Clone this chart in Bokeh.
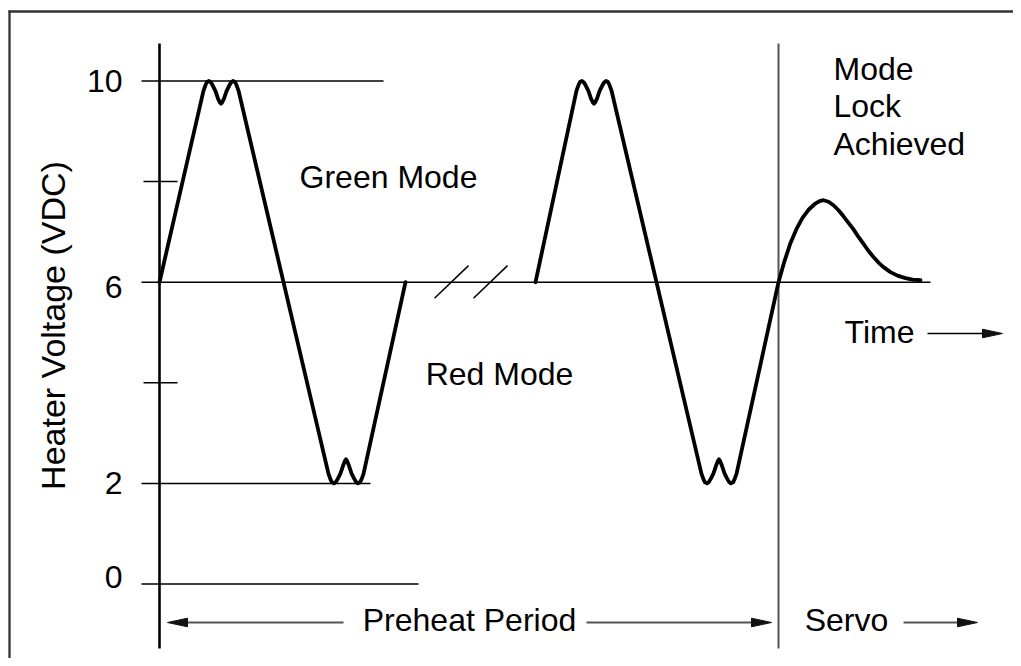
from bokeh.plotting import figure
from bokeh.models import Range1d
from bokeh.core.properties import value
from bokeh.embed import file_html
from bokeh.resources import INLINE

# ---------------- data ----------------
# y axis (heater voltage, VDC)
tick_vals = [10, 6, 2, 0]
tick_labels = ["10", "6", "2", "0"]
minor_tick_vals = [8, 4]
ref_line_end_t = [383, 930, 370, 418]      # time where each level line ends

# waveform 1 (preheat, first cycle) : time, volts
wave1_t = [159, 203, 205, 206.5, 208.5, 210.5, 212.5, 215, 217.5, 219.5, 220.5,
           221.5, 223.5, 226, 228.5, 230.5, 232.5, 234.5, 236, 238,
           328, 330, 331.5, 333.5, 335.5, 337.5, 340, 342.5, 344.5, 345.5,
           346.5, 348.5, 351, 353.5, 355.5, 357.5, 359.5, 361, 363, 405]
wave1_v = [6.0, 9.81, 9.92, 9.98, 10.0, 9.97, 9.9, 9.8, 9.65, 9.57, 9.55,
           9.57, 9.65, 9.8, 9.9, 9.97, 10.0, 9.98, 9.92, 9.81,
           2.19, 2.08, 2.02, 2.0, 2.03, 2.1, 2.2, 2.35, 2.45, 2.48,
           2.45, 2.35, 2.2, 2.1, 2.03, 2.0, 2.02, 2.08, 2.19, 6.0]

# waveform 2 (last preheat cycle + servo lock)
wave2_t = [535, 576, 578, 579.5, 581.5, 583.5, 585.5, 588, 590.5, 592.5, 593.5,
           594.5, 596.5, 599, 601.5, 603.5, 605.5, 607.5, 609, 611,
           701, 703, 704.5, 706.5, 708.5, 710.5, 713, 715.5, 717.5, 718.5,
           719.5, 721.5, 724, 726.5, 728.5, 730.5, 732.5, 734, 736,
           778, 784, 790, 796, 802, 808, 814, 819, 823, 828, 833, 838, 843, 848,
           853, 858, 863, 868, 873, 878, 883, 890, 897, 905, 912, 920]
wave2_v = [6.0, 9.81, 9.92, 9.98, 10.0, 9.97, 9.9, 9.8, 9.65, 9.57, 9.55,
           9.57, 9.65, 9.8, 9.9, 9.97, 10.0, 9.98, 9.92, 9.81,
           2.19, 2.08, 2.02, 2.0, 2.03, 2.1, 2.2, 2.35, 2.45, 2.48,
           2.45, 2.35, 2.2, 2.1, 2.03, 2.0, 2.02, 2.08, 2.19,
           6.0, 6.42, 6.78, 7.06, 7.28, 7.44, 7.55, 7.61, 7.63, 7.6, 7.53, 7.43, 7.31, 7.18,
           7.05, 6.9, 6.76, 6.62, 6.5, 6.39, 6.3, 6.2, 6.13, 6.08, 6.05, 6.04]

# time-axis break marks
break_t0 = [434, 473]
break_t1 = [468, 507]
break_v0 = [5.68, 5.68]
break_v1 = [6.33, 6.33]

axis_t = 159
servo_t = 778

# annotations
texts = ["Green Mode", "Red Mode", "Time", "Preheat Period", "Servo"]
lock_lines = ["Mode", "Lock", "Achieved"]
y_title = "Heater Voltage (VDC)"

# arrows: tail time, tip time
arrow_tail = [343, 586, 903, 927]
arrow_tip = [167, 771, 977, 1002]

# ---------------- layout / styling ----------------
PXV = 50.3          # pixels per volt
ZERO_PX = 583.5     # screen y of 0 V
W, H = 1013, 658


def sy(px):
    return (ZERO_PX - px) / PXV


FONT = value("Liberation Sans")
p = figure(width=W, height=H, x_range=Range1d(0, W),
           y_range=Range1d(sy(H), sy(0)),
           output_backend="svg", toolbar_location=None,
           x_axis_location=None, y_axis_location=None, min_border=0)
p.grid.visible = False
p.outline_line_color = None
p.background_fill_color = "white"
p.border_fill_color = "white"

# frame border (left and top edges of the drawing box)
p.segment(x0=[9, 8], x1=[9, W + 20], y0=[sy(10), sy(11)], y1=[sy(H + 20), sy(11)],
          line_color="#333333", line_width=2.3)

# level lines
p.segment(x0=[141] * len(tick_vals), x1=ref_line_end_t, y0=tick_vals, y1=tick_vals,
          line_color="black", line_width=1.5)
p.segment(x0=[143] * len(minor_tick_vals), x1=[177] * len(minor_tick_vals),
          y0=minor_tick_vals, y1=minor_tick_vals, line_color="black", line_width=1.5)

# vertical axis and servo line
p.segment(x0=[axis_t], x1=[axis_t], y0=[sy(43)], y1=[sy(648)], line_color="black", line_width=2.6)
p.segment(x0=[servo_t], x1=[servo_t], y0=[sy(43)], y1=[sy(648)], line_color="#555555", line_width=2)

# break marks
p.segment(x0=break_t0, x1=break_t1, y0=break_v0, y1=break_v1, line_color="black", line_width=1.5)

# waveforms
for tt, vv in ((wave1_t, wave1_v), (wave2_t, wave2_v)):
    p.line(tt, vv, line_color="black", line_width=3.8, line_join="round", line_cap="round")

# tick labels
lab_off = [0, 5, 0, -7]   # px adjustments as drawn in the original
p.text(x=[122] * len(tick_vals), y=[v - o / PXV for v, o in zip(tick_vals, lab_off)],
       text=tick_labels, text_font=FONT, text_font_size="32px", text_align="right",
       text_baseline="middle", text_color="black")

# y title
p.text(x=[52], y=[sy(325)], text=[y_title], angle=1.5707963, text_font=FONT,
       text_font_size="34px", text_align="center", text_baseline="middle", text_color="black")

# labels
text_x = [388, 499, 879, 469, 846]
text_y = [sy(176), sy(373), sy(331), sy(619), sy(619)]
p.text(x=text_x, y=text_y, text=texts, text_font=FONT, text_font_size="32px",
       text_align="center", text_baseline="middle", text_color="black")
p.text(x=[833] * 3, y=[sy(68), sy(105.7), sy(143.4)], text=lock_lines, text_font=FONT,
       text_font_size="32px", text_align="left", text_baseline="middle", text_color="black")

# arrows
arrow_y = [sy(622), sy(622), sy(622), sy(333)]
shaft_col = ["#555555", "#555555", "#555555", "black"]
shaft_w = [2.2, 2.2, 2.2, 1.6]
HL, HW = 20, 4.3
hx, hy, sx0, sx1 = [], [], [], []
for a, b, yv in zip(arrow_tail, arrow_tip, arrow_y):
    d = 1 if b > a else -1
    base = b - d * HL
    hx.append([b, base, base])
    hy.append([yv, yv + HW / PXV, yv - HW / PXV])
    sx0.append(a)
    sx1.append(base)
p.segment(x0=sx0, x1=sx1, y0=arrow_y, y1=arrow_y, line_color=shaft_col, line_width=shaft_w)
p.patches(hx, hy, fill_color="#111111", line_color="#111111", line_width=1)

open("out.html", "w").write(file_html(p, INLINE))
